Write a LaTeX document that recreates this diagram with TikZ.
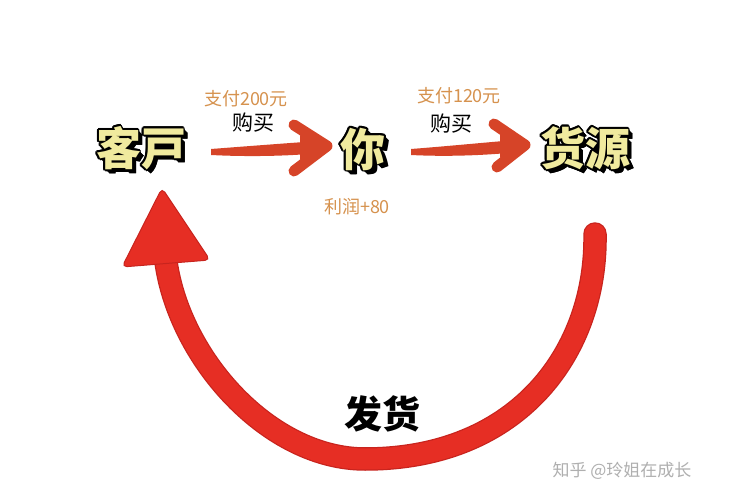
\documentclass[tikz,border=0pt]{standalone}
\usepackage{fontspec}
\newfontfamily\cjk{Noto Sans CJK SC}
\definecolor{wordyellow}{RGB}{240,234,158}
\definecolor{payorange}{RGB}{214,146,78}
\definecolor{brushred}{RGB}{214,68,40}
\definecolor{arcred}{RGB}{230,46,36}
\definecolor{arcedge}{RGB}{200,36,30}
\definecolor{markgray}{RGB}{175,175,175}
\newcommand\cartoonword[3]{%
  \foreach \a in {0.5,1,...,4.5}
    \node[bigtxt,text=black] at ([shift={(\a,\a)}]#2) {#3};
  \foreach \ang in {0,30,...,330}
    \node[bigtxt,text=black] at ([shift={(\ang:1.8)}]#2) {#3};
  \node[bigtxt,text=wordyellow] (#1) at (#2) {#3};
}
\begin{document}
\begin{tikzpicture}[x=1pt,y=-1pt,
  bigtxt/.style={font=\cjk\bfseries\fontsize{45}{45}\selectfont,inner sep=0pt},
  paytxt/.style={font=\cjk\fontsize{18}{18}\selectfont,text=payorange,inner sep=0pt},
  buytxt/.style={font=\cjk\fontsize{21}{21}\selectfont,text=black,inner sep=0pt},
  shiptxt/.style={font=\cjk\bfseries\fontsize{38}{38}\selectfont,text=black,inner sep=0pt},
  marktxt/.style={font=\cjk\fontsize{17}{17}\selectfont,text=markgray,inner sep=0pt},
  brush/.style={draw=brushred,line width=11pt,line cap=round,line join=round},
  bigarc/.style={line cap=round}]
\useasboundingbox[fill=white] (0,0) rectangle (729,500);

% big words
\cartoonword{kehu}{141,148}{客戸}
\cartoonword{ni}{363,149}{你}
\cartoonword{huoyuan}{585,148}{货源}

% labels
\node[paytxt] (pay1) at (246,99) {支付200元};
\node[buytxt] (buy1) at (253,123) {购买};
\node[paytxt] (pay2) at (459,96) {支付120元};
\node[buytxt] (buy2) at (451,124) {购买};
\node[paytxt] (profit) at (357,207) {利润+80};
\node[shiptxt] (ship) at (382,414) {发货};
\node[marktxt] (mark) at (622,471) {知乎 @玲姐在成长};

% brush arrow 1 (客戸 -> 你)
\coordinate (a1t) at (211,152);
\coordinate (a1h) at (327,146);
\fill[brushred] (a1t) ++(0,-3) .. controls (250,146) and (290,143) .. (318,141)
  -- (320,153) .. controls (290,156) and (250,157) .. (211,155) -- cycle;
\draw[brush] (294,125) -- (a1h) -- (294,171);
\fill[brushred] (300,135) -- (a1h) -- (300,160) -- cycle;

% brush arrow 2 (你 -> 货源)
\coordinate (a2t) at (411,152);
\coordinate (a2h) at (525,145);
\fill[brushred] (a2t) ++(0,-3) .. controls (450,146) and (490,142) .. (516,140)
  -- (518,152) .. controls (490,155) and (450,157) .. (411,155) -- cycle;
\draw[brush] (494,124) -- (a2h) -- (497,167);
\fill[brushred] (500,134) -- (a2h) -- (500,158) -- cycle;

% big return arc (货源 -> 客戸)
\coordinate (arcS) at (595,234);
\coordinate (arcB) at (365,459);
\coordinate (arcE) at (166,262);
\draw[bigarc,draw=arcedge,line width=23.5pt] (arcS) .. controls (597,350) and (520,459) .. (arcB)
  .. controls (270,459) and (180,360) .. (arcE);
\draw[bigarc,draw=arcred,line width=21pt] (arcS) .. controls (597,350) and (520,459) .. (arcB)
  .. controls (270,459) and (180,360) .. (arcE);
\filldraw[fill=arcred,draw=arcedge,line width=1pt,rounded corners=5pt]
  (162,188) -- (122,267) -- (210,260) -- cycle;
\end{tikzpicture}
\end{document}
